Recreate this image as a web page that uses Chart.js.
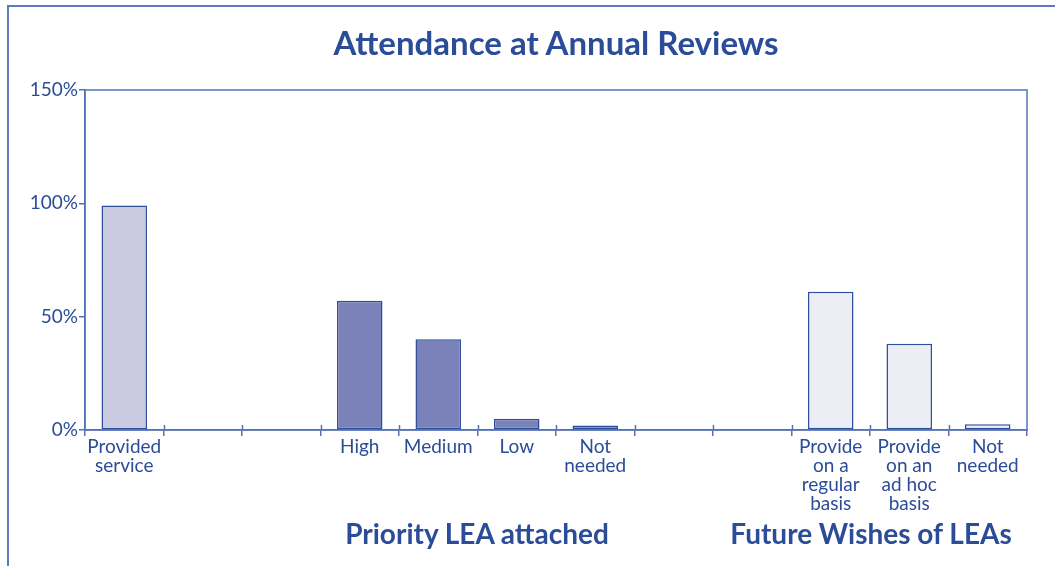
<!DOCTYPE html>
<html>
<head>
<meta charset="utf-8">
<script src="https://cdn.jsdelivr.net/npm/chart.js@4"></script>
<style>
  html, body { margin: 0; padding: 0; background: #fff; }
  #wrap { position: relative; width: 1055px; height: 566px; overflow: hidden; }
  #frame { position: absolute; left: 7px; top: 5px; width: 1100px; height: 600px;
           border-left: 2px solid #5f7cba; border-top: 2px solid #5f7cba; }
  canvas { position: absolute; left: 0; top: 0; }
  .title { position: absolute; top: 22px; left: 556px; transform: translateX(-50%);
           font: bold 33px Lato, sans-serif; color: #2b4c98; white-space: nowrap; }
  .group { position: absolute; top: 516px; font: bold 28px Lato, sans-serif; color: #2b4c98;
           transform: translateX(-50%); white-space: nowrap; }
</style>
</head>
<body>
<div id="wrap">
  <div id="frame"></div>
  <canvas id="chartBar" width="1055" height="566"></canvas>
  <div class="title">Attendance at Annual Reviews</div>
  <div class="group" style="left:477px">Priority LEA attached</div>
  <div class="group" style="left:871px">Future Wishes of LEAs</div>
</div>
<script>
  const categories = [
    ['Provided', 'service'], '', '',
    'High', 'Medium', 'Low', ['Not', 'needed'], '', '',
    ['Provide', 'on a', 'regular', 'basis'], ['Provide', 'on an', 'ad hoc', 'basis'], ['Not', 'needed']
  ];
  const attendance = [99, null, null, 57, 40, 5, 2, null, null, 61, 38, 2.5];
  const barColours = [
    '#c9c9e1', null, null,
    '#7a82b9', '#7a82b9', '#7a82b9', '#7a82b9', null, null,
    '#ededf6', '#ededf6', '#ededf6'
  ];
  const yTicks = [0, 50, 100, 150];

  const blue = '#2b4c98';
  const axisBlue = '#5473b6';

  // frame round the plot area and ticks crossing the x axis
  const plotFrame = {
    id: 'plotFrame',
    afterDraw(chart) {
      const { ctx, chartArea } = chart;
      const x = chart.scales.x;
      ctx.save();
      ctx.strokeStyle = axisBlue;
      ctx.lineWidth = 1.5;
      ctx.strokeRect(chartArea.left, chartArea.top, chartArea.right - chartArea.left, chartArea.bottom - chartArea.top);
      const half = (x.getPixelForTick(1) - x.getPixelForTick(0)) / 2;
      for (let i = 1; i < categories.length; i++) {
        const px = Math.round(x.getPixelForTick(i) - half) + 0.5;
        ctx.beginPath();
        ctx.moveTo(px, chartArea.bottom - 5);
        ctx.lineTo(px, chartArea.bottom);
        ctx.stroke();
      }
      ctx.restore();
    }
  };

  new Chart(document.getElementById('chartBar'), {
    type: 'bar',
    data: {
      labels: categories,
      datasets: [{
        label: 'Attendance',
        data: attendance,
        backgroundColor: barColours,
        borderColor: '#2d4f9c',
        borderWidth: 1.5,
        borderSkipped: false,
        barPercentage: 0.58,
        categoryPercentage: 1
      }]
    },
    options: {
      responsive: false,
      animation: false,
      layout: { padding: { left: 0, right: 28, top: 90, bottom: 0 } },
      plugins: {
        legend: { display: false },
        tooltip: { enabled: false },
        title: { display: false }
      },
      scales: {
        x: {
          offset: true,
          afterFit(scale) { scale.height = 136; },
          border: { color: axisBlue, width: 1.5 },
          grid: { offset: true, drawOnChartArea: false, tickLength: 6, color: axisBlue, lineWidth: 1.5 },
          ticks: {
            color: blue,
            padding: 1,
            maxRotation: 0,
            autoSkip: false,
            font: { family: 'Lato', size: 19, lineHeight: 1.0 }
          }
        },
        y: {
          min: 0,
          max: 150,
          afterFit(scale) { scale.width = 85; },
          afterBuildTicks(scale) { scale.ticks = yTicks.map(v => ({ value: v })); },
          border: { color: axisBlue, width: 1.5 },
          grid: { drawOnChartArea: false, tickLength: 6, color: axisBlue, lineWidth: 1.5 },
          ticks: {
            color: blue,
            padding: 1,
            font: { family: 'Lato', size: 19 },
            callback: v => v + '%'
          }
        }
      }
    },
    plugins: [plotFrame]
  });
</script>
</body>
</html>
